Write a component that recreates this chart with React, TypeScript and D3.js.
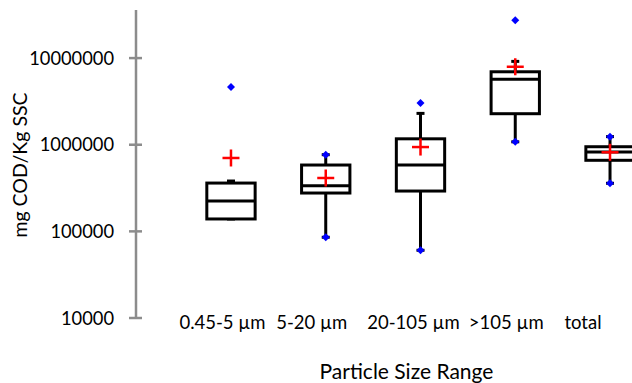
import React from "react";
import * as d3 from "d3";

const categories = ["0.45-5 µm", "5-20 µm", "20-105 µm", ">105 µm", "total"];
const labelOffsets = [-8.5, -14, -7, -9, -27];
const whiskerLow = [139000, 85500, 60500, 1080000, 359000];
const q1 = [139000, 277000, 292000, 2280000, 661000];
const median = [224000, 336000, 583000, 5680000, 824000];
const q3 = [361000, 583000, 1170000, 6950000, 948000];
const whiskerHigh = [381000, 767000, 2300000, 9160000, 1240000];
const means = [703000, 413000, 940000, 7940000, 818000];
const outliers: number[][] = [[4630000], [], [3030000], [27400000], []];
const lowDots = [false, true, true, true, true];
const highDots = [false, true, false, false, true];
const yTicks = [10000, 100000, 1000000, 10000000];

const W = 632;
const H = 383;

export default function App() {
  const y = d3.scaleLog().domain([1e4, Math.pow(10, 7.555)]).range([318, 10]);
  const x = d3.scaleBand<string>().domain(categories).range([183.6, 657.4]).padding(0);
  const bw = x.bandwidth();
  const boxW = bw * 0.51;
  const capW = 8;
  const font = "Lato, 'Open Sans', sans-serif";
  const axisX = 136;

  const diamond = (cx: number, cy: number, k: string) => (
    <path key={k} d={`M${cx},${cy - 4}L${cx + 4},${cy}L${cx},${cy + 4}L${cx - 4},${cy}Z`} fill="#0000ff" />
  );

  return (
    <svg width={W} height={H} style={{ position: "absolute", left: 0, top: 0, background: "#fff" }} fontFamily={font}>
      <line x1={axisX} x2={axisX} y1={y.range()[1]} y2={y(1e4)} stroke="#8c8c8c" strokeWidth={2.5} />
      {yTicks.map((t) => (
        <g key={t}>
          <line x1={axisX - 7} x2={axisX + 6} y1={y(t)} y2={y(t)} stroke="#8c8c8c" strokeWidth={2.5} />
          <text x={114} y={y(t) + 6.5} textAnchor="end" fontSize={18.3} fill="#000">
            {t}
          </text>
        </g>
      ))}
      <text
        transform={`translate(27,165) rotate(-90)`}
        textAnchor="middle"
        fontSize={19.5}
        fill="#000"
      >
        mg COD/Kg SSC
      </text>
      {categories.map((c, i) => {
        const cx = (x(c) as number) + bw / 2;
        return (
          <g key={c}>
            <line x1={cx} x2={cx} y1={y(whiskerHigh[i])} y2={y(q3[i])} stroke="#000" strokeWidth={3} />
            <line x1={cx} x2={cx} y1={y(q1[i])} y2={y(whiskerLow[i])} stroke="#000" strokeWidth={3} />
            <line x1={cx - capW / 2} x2={cx + capW / 2} y1={y(whiskerHigh[i])} y2={y(whiskerHigh[i])} stroke="#000" strokeWidth={3} />
            <line x1={cx - capW / 2} x2={cx + capW / 2} y1={y(whiskerLow[i])} y2={y(whiskerLow[i])} stroke="#000" strokeWidth={3} />
            <rect
              x={cx - boxW / 2}
              y={y(q3[i])}
              width={boxW}
              height={y(q1[i]) - y(q3[i])}
              fill="#fff"
              stroke="#000"
              strokeWidth={3}
            />
            <line x1={cx - boxW / 2} x2={cx + boxW / 2} y1={y(median[i])} y2={y(median[i])} stroke="#000" strokeWidth={3} />
            {highDots[i] && diamond(cx, y(whiskerHigh[i]), "h")}
            {lowDots[i] && diamond(cx, y(whiskerLow[i]), "l")}
            {outliers[i].map((o, j) => diamond(cx, y(o), "o" + j))}
            <g stroke="#ff0000" strokeWidth={2.5}>
              <line x1={cx - 8.5} x2={cx + 8.5} y1={y(means[i])} y2={y(means[i])} />
              <line x1={cx} x2={cx} y1={y(means[i]) - 8.5} y2={y(means[i]) + 8.5} />
            </g>
            <text x={cx + labelOffsets[i]} y={329} textAnchor="middle" fontSize={18.5} fill="#000">
              {c}
            </text>
          </g>
        );
      })}
      <text x={406.5} y={379} textAnchor="middle" fontSize={21} fill="#000">
        Particle Size Range
      </text>
    </svg>
  );
}
